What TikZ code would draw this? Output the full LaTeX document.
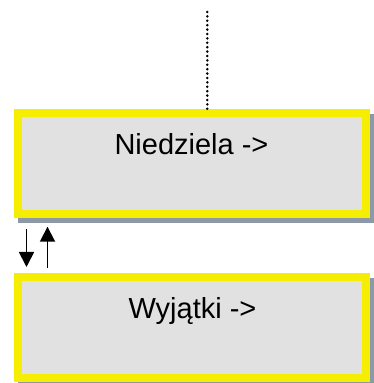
\documentclass[tikz,border=0pt]{standalone}
\usepackage{fontspec}
\setmainfont{Liberation Sans}
\usetikzlibrary{arrows.meta}

\definecolor{boxfill}{RGB}{225,225,225}
\definecolor{boxline}{RGB}{246,238,0}
\definecolor{boxshade}{RGB}{142,153,168}

\tikzset{
  daybox/.style={
    rectangle, draw=boxline, fill=boxfill, line width=8pt,
    minimum width=348pt, minimum height=100.7pt, inner sep=0pt
  },
  dayshade/.style={
    rectangle, fill=boxshade, draw=none,
    minimum width=356pt, minimum height=108.7pt, inner sep=0pt
  },
  daylabel/.style={anchor=base, font=\fontsize{29}{35}\selectfont, inner sep=0pt},
  flow/.style={line width=1.8pt, -{Triangle[length=15pt,width=15pt]}},
  dotline/.style={line width=2.8pt, dash pattern=on 0pt off 4.4pt, line cap=round}
}

\begin{document}
\begin{tikzpicture}[x=1pt,y=1pt]
  \useasboundingbox (0,0) rectangle (373,383);

  % offset shadows, drawn first so the boxes cover them
  \node[dayshade] (sunshade) at (196,214.35) {};
  \node[dayshade] (excshade) at (196,50.35) {};

  % the two day boxes
  \node[daybox] (sun) at (192,219.35) {};
  \node[daybox] (exc) at (192,55.35) {};

  \node[daylabel] (sunlbl) at (191.5,228) {Niedziela ->};
  \node[daylabel] (exclbl) at (192.5,64.7) {Wyjątki ->};

  % dotted lead-in from above
  \coordinate (lead) at (207.3,371);
  \draw[dotline] (lead) -- (lead |- sun.north);

  % two-way arrows between the boxes
  \coordinate (downA) at (26.5,153.7);
  \coordinate (downB) at (26.5,116);
  \coordinate (upA) at (47.5,114.7);
  \coordinate (upB) at (47.5,156.3);
  \draw[flow] (downA) -- (downB);
  \draw[flow] (upA) -- (upB);
\end{tikzpicture}
\end{document}
